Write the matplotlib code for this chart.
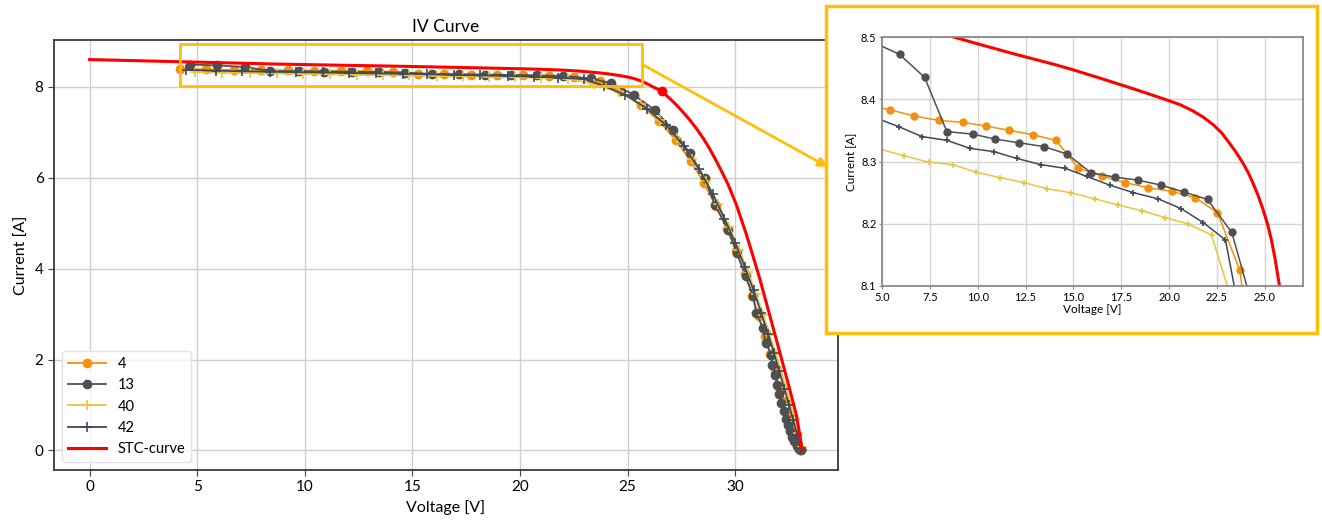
import numpy as np
import matplotlib
matplotlib.use("Agg")
import matplotlib.pyplot as plt
from matplotlib.patches import Rectangle, ConnectionPatch
from matplotlib.ticker import FormatStrFormatter

plt.rcParams['font.family'] = ['Lato', 'DejaVu Sans']

# ---------------- data ----------------
labels = ["4", "13", "40", "42", "STC-curve"]

v4 = [4.20, 5.43, 6.69, 7.96, 9.21, 10.43, 11.66, 12.88, 14.10, 15.26, 16.48, 17.70, 18.91,
      20.13, 21.35, 22.53, 23.70, 24.67, 25.60, 26.45, 27.25, 27.95, 28.55, 29.10, 29.60,
      30.05, 30.45, 30.80, 31.10, 31.38, 31.62, 31.84, 32.04, 32.22, 32.40, 32.56, 32.72,
      32.86, 33.00]
i4 = [8.39, 8.383, 8.373, 8.366, 8.363, 8.357, 8.350, 8.343, 8.334, 8.289, 8.277, 8.266,
      8.258, 8.252, 8.242, 8.218, 8.125, 7.90, 7.60, 7.25, 6.82, 6.36, 5.88, 5.38, 4.88,
      4.38, 3.88, 3.40, 2.95, 2.52, 2.12, 1.75, 1.40, 1.08, 0.79, 0.53, 0.30, 0.12, 0.0]

v13 = [4.65, 5.92, 7.23, 8.39, 9.75, 10.90, 12.18, 13.45, 14.67, 15.92, 17.16, 18.39, 19.59,
       20.77, 22.01, 23.28, 24.25, 25.30, 26.26, 27.11, 27.89, 28.58, 29.05, 29.67, 30.08,
       30.49, 30.83, 30.98, 31.29, 31.42, 31.68, 31.73, 31.85, 31.95, 32.05, 32.15, 32.25,
       32.35, 32.45, 32.55, 32.65, 32.75, 32.85, 32.95, 33.05]
i13 = [8.49, 8.472, 8.435, 8.348, 8.344, 8.336, 8.330, 8.324, 8.312, 8.282, 8.275, 8.270,
       8.262, 8.251, 8.239, 8.186, 8.08, 7.82, 7.49, 7.05, 6.54, 5.99, 5.41, 4.86, 4.34,
       3.83, 3.39, 3.02, 2.69, 2.36, 2.11, 1.89, 1.65, 1.45, 1.25, 1.05, 0.87, 0.70, 0.55,
       0.42, 0.30, 0.20, 0.10, 0.03, 0.0]

v40 = [4.90, 6.17, 7.43, 8.69, 9.90, 11.17, 12.43, 13.64, 14.86, 16.13, 17.35, 18.57, 19.78,
       20.97, 22.22, 23.45, 24.60, 25.60, 26.50, 27.30, 28.00, 28.65, 29.20, 29.72, 30.18,
       30.60, 30.97, 31.30, 31.60, 31.88, 32.13, 32.36, 32.57, 32.76, 32.93, 33.08, 33.12]
i40 = [8.32, 8.309, 8.299, 8.295, 8.283, 8.274, 8.266, 8.256, 8.250, 8.240, 8.230, 8.221,
       8.210, 8.200, 8.182, 8.06, 7.88, 7.62, 7.28, 6.88, 6.42, 5.93, 5.42, 4.92, 4.42,
       3.92, 3.44, 2.98, 2.55, 2.13, 1.74, 1.37, 1.02, 0.69, 0.38, 0.08, 0.0]

v42 = [4.50, 5.87, 7.09, 8.39, 9.61, 10.83, 12.04, 13.30, 14.57, 15.70, 16.91, 18.13, 19.43,
       20.65, 21.78, 22.95, 23.90, 24.90, 25.90, 26.80, 27.60, 28.30, 28.95, 29.50, 30.00,
       30.45, 30.85, 31.20, 31.52, 31.80, 32.05, 32.28, 32.50, 32.70, 32.88, 33.05, 33.10]
i42 = [8.372, 8.356, 8.340, 8.334, 8.321, 8.316, 8.305, 8.295, 8.289, 8.276, 8.262, 8.250,
       8.240, 8.224, 8.202, 8.174, 8.02, 7.82, 7.52, 7.15, 6.70, 6.20, 5.65, 5.10, 4.57,
       4.03, 3.52, 3.03, 2.57, 2.14, 1.74, 1.36, 1.00, 0.66, 0.34, 0.05, 0.0]

v_stc = [0.0, 2.0, 4.0, 6.0, 8.0, 8.74, 10.0, 12.0, 14.0, 14.91, 16.38, 18.12, 19.87, 20.6,
         21.26, 21.8, 22.31, 22.75, 23.17, 23.52, 23.87, 24.14, 24.39, 24.66, 24.92, 25.15,
         25.35, 25.55, 25.75, 25.95, 26.15, 26.37, 26.58, 26.92, 27.27, 27.58, 27.89, 28.2,
         28.51, 28.82, 29.13, 29.40, 29.67, 30.05, 30.52, 30.90, 31.14, 31.6, 32.07, 32.53,
         32.85, 33.12]
i_stc = [8.60, 8.577, 8.554, 8.532, 8.509, 8.50, 8.489, 8.472, 8.456, 8.448, 8.434, 8.417,
         8.399, 8.391, 8.381, 8.371, 8.359, 8.346, 8.329, 8.314, 8.297, 8.282, 8.265, 8.245,
         8.222, 8.199, 8.174, 8.142, 8.104, 8.058, 8.005, 7.955, 7.90, 7.76, 7.60, 7.44,
         7.27, 7.08, 6.87, 6.63, 6.36, 6.11, 5.85, 5.41, 4.75, 4.16, 3.78, 2.98, 2.16, 1.35,
         0.76, 0.0]
mpp_v = [26.58]
mpp_i = [7.90]

# ---------------- style ----------------
c4 = "#F5900A"
c13 = "#505050"
c40 = "#EBC53F"
c42 = "#3F495C"
cred = "#FF0000"
gold = "#FFBE0A"

W, H = 1322, 523
fig = plt.figure(figsize=(W / 100, H / 100), dpi=100)
fig.patch.set_facecolor("white")

ax = fig.add_axes([54 / W, 53 / H, 784 / W, 430 / H])


def draw_series(a, ms_c, ms_p, lw):
    a.plot(v4, i4, "-o", color=c4, ms=ms_c, lw=lw, label=labels[0])
    a.plot(v13, i13, "-o", color=c13, ms=ms_c, lw=lw, label=labels[1])
    a.plot(v40, i40, "-+", color=c40, ms=ms_p, mew=1.2, lw=lw, label=labels[2])
    a.plot(v42, i42, "-+", color=c42, ms=ms_p, mew=1.2, lw=lw, label=labels[3])
    a.plot(v_stc, i_stc, "-", color=cred, lw=2.2, label=labels[4])


draw_series(ax, 6, 7, 1.3)
ax.plot(mpp_v, mpp_i, "o", color=cred, ms=6)

ax.set_title("IV Curve", fontsize=12.5, pad=6)
ax.set_xlabel("Voltage [V]", fontsize=11.5)
ax.set_ylabel("Current [A]", fontsize=11.5)
ax.set_xticks([0, 5, 10, 15, 20, 25, 30])
ax.set_yticks([0, 2, 4, 6, 8])
ax.tick_params(labelsize=11, length=4, color="#444444")
ax.grid(True, color="#cfcfcf", lw=1)
ax.set_axisbelow(True)
for s in ax.spines.values():
    s.set_color("#3a3a3a")
    s.set_linewidth(1.3)
leg = ax.legend(loc="lower left", fontsize=10.5, handlelength=2.6, framealpha=0.8,
                edgecolor="#dddddd", borderaxespad=0.55)

# highlight rectangle
ax.add_patch(Rectangle((4.19, 8.01), 25.65 - 4.19, 0.94, fill=False,
                       edgecolor=gold, lw=2, zorder=6))

# inset panel
panel = Rectangle((826 / W, 1 - 333 / H), 491 / W, 327 / H, transform=fig.transFigure,
                  facecolor="white", edgecolor=gold, lw=2.5, zorder=1)
fig.add_artist(panel)

axi = fig.add_axes([882 / W, 1 - 286 / H, 421 / W, 249 / H])
axi.set_zorder(2)
draw_series(axi, 5, 5, 1.1)
axi.set_xlim(5, 27)
axi.set_ylim(8.1, 8.5)
axi.set_xticks(np.arange(5, 25.1, 2.5))
axi.set_yticks([8.1, 8.2, 8.3, 8.4, 8.5])
axi.xaxis.set_major_formatter(FormatStrFormatter("%.1f"))
axi.yaxis.set_major_formatter(FormatStrFormatter("%.1f"))
axi.tick_params(labelsize=8, length=2, color="#888888", pad=2)
axi.set_xlabel("Voltage [V]", fontsize=8.5, labelpad=1)
axi.set_ylabel("Current [A]", fontsize=8.5, labelpad=3)
axi.grid(True, color="#d5d5d5", lw=1)
axi.set_axisbelow(True)
for s in axi.spines.values():
    s.set_color("#8a8a8a")
    s.set_linewidth(1.3)

# connector arrow
con = ConnectionPatch(xyA=(25.69, 8.49), coordsA=ax.transData,
                      xyB=(828 / W, 1 - 167 / H), coordsB=fig.transFigure,
                      arrowstyle="-|>", color=gold, lw=2, mutation_scale=14, zorder=3)
fig.add_artist(con)

fig.savefig("out.png", dpi=100)
